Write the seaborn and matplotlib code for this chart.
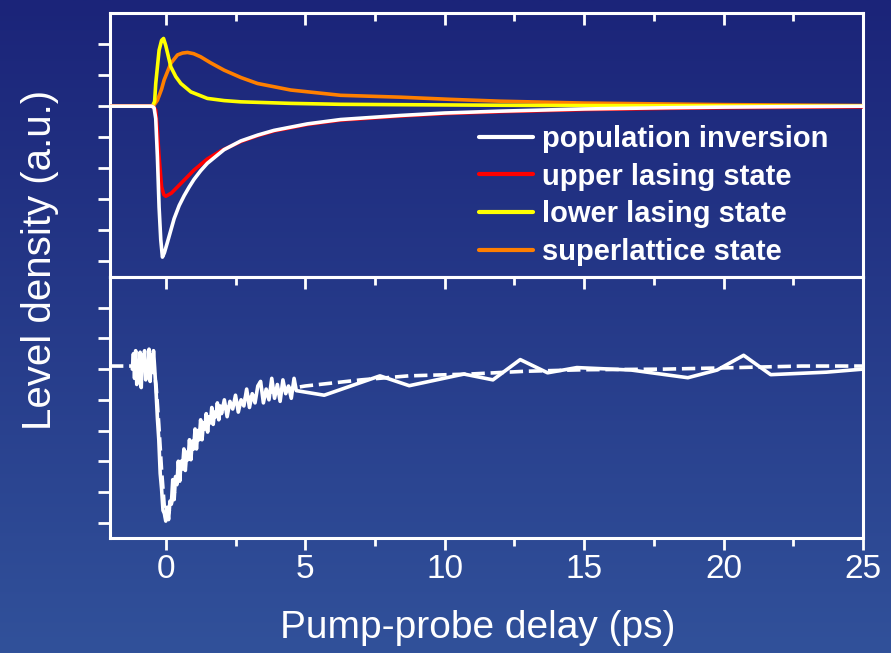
import numpy as np
import pandas as pd
import matplotlib
matplotlib.use('Agg')
import matplotlib.pyplot as plt
import seaborn as sns

# --- simulated level densities (top panel) ---
inv_x = [-2.0, -0.5, -0.42, -0.36, -0.3, -0.24, -0.18, -0.12, -0.05, 0.06, 0.18, 0.3,
         0.48, 0.66, 0.84, 1.01, 1.25, 1.49, 2.09, 2.69, 3.3, 3.88, 5.08, 6.27, 8.4,
         10.0, 12.0, 15.0, 18.0, 20.0, 25.0]
inv_y = [0.0, 0.0, -0.05, -0.4, -1.63, -3.25, -4.3, -4.86, -4.72, -4.38, -4.0, -3.62,
         -3.2, -2.88, -2.6, -2.36, -2.08, -1.84, -1.4, -1.12, -0.93, -0.78, -0.57,
         -0.43, -0.3, -0.22, -0.16, -0.09, -0.05, -0.03, 0.0]

up_x = [-2.0, -0.5, -0.42, -0.36, -0.3, -0.24, -0.15, -0.07, 0.0, 0.2, 0.54, 1.01,
        1.49, 1.97, 2.69, 3.3, 3.88, 5.08, 6.27, 8.4, 10.0, 12.0, 15.0, 18.0, 20.0, 25.0]
up_y = [0.0, 0.0, -0.05, -0.13, -0.8, -1.63, -2.6, -2.85, -2.9, -2.8, -2.49, -2.06,
        -1.7, -1.44, -1.14, -0.95, -0.8, -0.59, -0.45, -0.32, -0.24, -0.18, -0.11,
        -0.07, -0.05, -0.02]

low_x = [-2.0, -0.48, -0.4, -0.36, -0.24, -0.15, -0.08, 0.0, 0.18, 0.36, 0.54, 0.9,
         1.49, 2.09, 2.69, 4.48, 6.27, 8.0, 10.0, 12.0, 15.0, 20.0, 25.0]
low_y = [0.0, 0.0, 0.15, 0.73, 1.8, 2.12, 2.18, 1.95, 1.27, 0.95, 0.73, 0.46,
         0.25, 0.18, 0.14, 0.09, 0.06, 0.05, 0.04, 0.03, 0.02, 0.01, 0.0]

sl_x = [-2.0, -0.45, -0.3, -0.15, -0.06, 0.18, 0.42, 0.6, 0.78, 1.0, 1.25, 1.6,
        2.09, 2.7, 3.29, 4.48, 6.27, 8.4, 10.2, 12.0, 15.0, 20.0, 25.0]
sl_y = [0.0, 0.0, 0.19, 0.55, 0.84, 1.38, 1.65, 1.71, 1.73, 1.69, 1.59, 1.4,
        1.16, 0.92, 0.73, 0.52, 0.35, 0.29, 0.22, 0.16, 0.1, 0.05, 0.02]

# --- measured pump-probe trace (bottom panel) ---
meas_x = [-1.2, -1.16, -1.12, -1.08, -1.04, -1.0, -0.96, -0.92, -0.88, -0.84, -0.8,
          -0.76, -0.72, -0.68, -0.64, -0.6, -0.56, -0.52, -0.48, -0.44, -0.4,
          -0.35, -0.3, -0.25, -0.2, -0.15, -0.1, -0.05,
          0.0, 0.05, 0.1, 0.15, 0.2, 0.25, 0.3, 0.35, 0.4, 0.45, 0.5, 0.55, 0.6,
          0.65, 0.7, 0.75, 0.8, 0.85, 0.9, 0.95, 1.0, 1.05, 1.1, 1.15, 1.2, 1.25,
          1.3, 1.35, 1.4, 1.45, 1.5, 1.55, 1.6, 1.65, 1.7, 1.75, 1.8, 1.85, 1.9,
          1.95, 2.0, 2.1, 2.2, 2.3, 2.4, 2.5, 2.6, 2.7, 2.8, 2.9, 3.0, 3.1, 3.2,
          3.3, 3.4, 3.5, 3.6, 3.7, 3.8, 3.9, 4.0, 4.1, 4.2, 4.3, 4.4, 4.5, 4.6,
          4.68, 5.68, 7.68, 8.73, 10.69, 11.73, 12.71, 13.69, 14.74, 16.69, 18.72,
          19.77, 20.72, 21.69, 23.68, 25.0]
meas_y = [0.0, 0.5, -0.3, 0.6, -0.5, 0.2, -0.05, 0.55, -0.6, 0.45, 0.1,
          0.6, -0.35, 0.2, -0.15, 0.65, -0.4, 0.45, -0.1, 0.6, 0.05,
          -0.7, -1.6, -2.3, -3.4, -3.9, -4.6, -4.7,
          -4.95, -4.5, -4.9, -4.3, -4.4, -3.6, -4.25, -3.5, -3.75, -3.0, -3.65, -3.0, -3.25,
          -2.6, -3.3, -2.7, -2.95, -2.3, -2.95, -2.35, -2.6, -1.95, -2.6, -2.0, -2.3, -1.65,
          -2.3, -1.75, -1.95, -1.45, -2.05, -1.55, -1.75, -1.25, -1.8, -1.4, -1.55, -1.1, -1.65,
          -1.2, -1.45, -1.0, -1.55, -1.05, -1.3, -0.85, -1.4, -1.0, -1.2, -0.65, -1.25, -0.8, -1.1,
          -0.55, -0.4, -1.1, -0.65, -1.0, -0.3, -0.95, -0.5, -1.05, -0.35, -0.8, -0.55, -0.95, -0.3,
          -0.7, -0.85, -0.22, -0.54, -0.16, -0.35, 0.31, -0.12, 0.05, -0.03, -0.28,
          -0.03, 0.45, -0.18, -0.1, 0.0]

fit_x = [-2.0, -0.45, -0.35, -0.25, -0.15, -0.05, 0.0, 0.1, 0.25, 0.5, 0.75, 1.0,
         1.5, 2.0, 2.5, 3.0, 4.0, 5.0, 7.0, 8.7, 10.9, 12.9, 15.0, 17.9, 20.0, 22.8, 25.0]
fit_y = [0.1, 0.1, -0.5, -1.8, -3.3, -4.5, -4.85, -4.7, -4.2, -3.4, -2.8, -2.35,
         -1.75, -1.35, -1.1, -0.92, -0.7, -0.55, -0.35, -0.22, -0.16, -0.07, -0.02,
         0.0, 0.04, 0.1, 0.1]

labels = ['population inversion', 'upper lasing state', 'lower lasing state',
          'superlattice state']
colors = ['#ffffff', '#ff0000', '#ffff00', '#ff7f00']

sns.set_theme(style='ticks')
plt.rcParams['font.family'] = ['Liberation Sans', 'DejaVu Sans']

fig = plt.figure(figsize=(8.91, 6.53), dpi=100)

# background gradient
bg = fig.add_axes([0, 0, 1, 1], zorder=-10)
grad = np.linspace(0, 1, 256).reshape(-1, 1)
cmap = matplotlib.colors.LinearSegmentedColormap.from_list('bg', ['#1b2479', '#31519a'])
bg.imshow(grad, aspect='auto', cmap=cmap, extent=[0, 1, 0, 1])
bg.axis('off')

left, right = 110 / 891, 863 / 891
ytop, ymid, ybot = 1 - 13 / 653, 1 - 277 / 653, 1 - 538 / 653
ax1 = fig.add_axes([left, ymid, right - left, ytop - ymid])
ax2 = fig.add_axes([left, ybot, right - left, ymid - ybot])

series = [(inv_x, inv_y), (up_x, up_y), (low_x, low_y), (sl_x, sl_y)]
zord = [5, 4, 3, 2]
for (xs, ys), lab, col, z in zip(series, labels, colors, zord):
    df = pd.DataFrame({'delay': xs, 'density': ys})
    sns.lineplot(data=df, x='delay', y='density', ax=ax1, color=col, lw=2.6,
                 label=lab, zorder=z, sort=False)

dfm = pd.DataFrame({'delay': meas_x, 'density': meas_y})
dff = pd.DataFrame({'delay': fit_x, 'density': fit_y})
sns.lineplot(data=dff, x='delay', y='density', ax=ax2, color='white', lw=2.6,
             dashes=(3.5, 2.5), linestyle='--', sort=False)
sns.lineplot(data=dfm, x='delay', y='density', ax=ax2, color='white', lw=2.6,
             sort=False)

for ax in (ax1, ax2):
    ax.set_facecolor('none')
    ax.set_xlim(-2, 25)
    ax.set_ylim(-5.5, 3)
    ax.set_yticks(np.arange(-5, 3))
    ax.set_xticks(np.arange(0, 26, 5))
    ax.set_xticks(np.arange(2.5, 25, 5), minor=True)
    for s in ax.spines.values():
        s.set_color('white')
        s.set_linewidth(2.2)
        s.set_visible(True)
    ax.set_xlabel('')
    ax.set_ylabel('')
    ax.tick_params(axis='y', which='both', direction='out', length=8.5, width=2,
                   color='white', labelleft=False, right=False)
    ax.tick_params(axis='x', which='major', length=8.5, width=2, color='white')
    ax.tick_params(axis='x', which='minor', length=5.5, width=2, color='white')

ax1.tick_params(axis='x', which='both', top=True, bottom=False, direction='in',
                labelbottom=False)
ax2.tick_params(axis='x', which='both', top=True, direction='in', labelbottom=False)
# outward ticks at the very bottom
ax2x = ax2.secondary_xaxis('bottom')
ax2x.set_xticks(np.arange(0, 26, 5))
ax2x.set_xticks(np.arange(2.5, 25, 5), minor=True)
ax2x.spines['bottom'].set_visible(False)
ax2x.tick_params(axis='x', which='major', direction='out', length=8.5, width=2,
                 color='white', labelcolor='white', labelsize=24, pad=3)
ax2x.tick_params(axis='x', which='minor', direction='out', length=5.5, width=2,
                 color='white')
ax2.tick_params(axis='x', which='both', bottom=False)

leg = ax1.legend(loc='upper left', bbox_to_anchor=(0.475, 0.62), frameon=False,
                 handlelength=1.85, handletextpad=0.3, labelspacing=0.33,
                 borderaxespad=0, prop={'size': 21, 'weight': 'bold'})
for t in leg.get_texts():
    t.set_color('white')
for h in leg.get_lines():
    h.set_linewidth(3)

fig.text(0.045, 1 - 260 / 653, 'Level density (a.u.)', rotation=90,
         ha='center', va='center', color='white', fontsize=29)
fig.text(478 / 891, 1 - 628 / 653, 'Pump-probe delay (ps)',
         ha='center', va='center', color='white', fontsize=28)

fig.savefig('out.png', dpi=100)
